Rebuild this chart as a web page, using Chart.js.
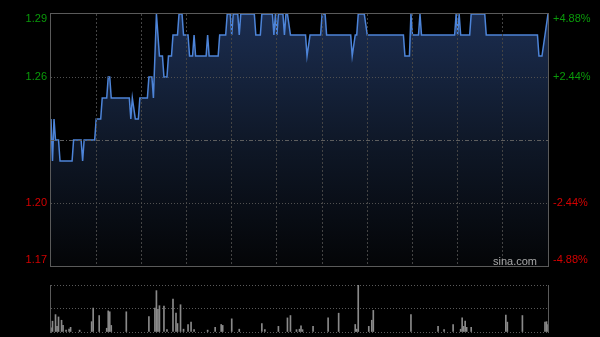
<!DOCTYPE html>
<html>
<head>
<meta charset="utf-8">
<script src="https://cdn.jsdelivr.net/npm/chart.js@4.4.0/dist/chart.umd.min.js"></script>
<style>
  html, body { margin: 0; padding: 0; background: #000; }
  #wrap { position: relative; width: 600px; height: 337px; background: #000; overflow: hidden; }
  #price { position: absolute; left: 0; top: 0; }
  #vol { position: absolute; left: 0; top: 280px; }
</style>
</head>
<body>
<div id="wrap">
  <canvas id="price" width="600" height="280"></canvas>
  <canvas id="vol" width="600" height="57"></canvas>
</div>
<script>
// minutes from the open (0..330), prices read at each turn of the line
var priceMinutes = [
  0, 1, 2, 3, 5, 6, 14, 15, 20, 21, 22, 29, 30, 33, 34, 37, 38, 39, 40,
  52, 53, 54, 56, 58, 59, 64, 65, 67, 68, 70, 72, 74, 75, 77, 78, 80,
  81, 84, 85, 87, 88, 91, 92, 94, 95, 96, 103, 104, 105, 111, 112, 116,
  117, 119, 120, 121, 124, 125, 126, 135, 136, 139, 140, 147, 148, 149,
  150, 151, 154, 155, 156, 157, 159, 169, 170, 172, 179, 180, 182, 183,
  199, 200, 202, 203, 204, 208, 210, 234, 235, 238, 239, 240, 244, 245,
  246, 268, 269, 270, 271, 272, 278, 279, 288, 289, 323, 324, 326, 328, 330
];
var prices = [
  1.24, 1.22, 1.24, 1.23, 1.23, 1.22, 1.22, 1.23, 1.23, 1.22, 1.23, 1.23, 1.24, 1.24, 1.25, 1.25, 1.26, 1.26, 1.25,
  1.25, 1.24, 1.25, 1.24, 1.24, 1.25, 1.25, 1.26, 1.26, 1.25, 1.29, 1.27, 1.27, 1.26, 1.26, 1.27, 1.27,
  1.28, 1.28, 1.29, 1.29, 1.28, 1.28, 1.27, 1.27, 1.28, 1.27, 1.27, 1.28, 1.27, 1.27, 1.28, 1.28,
  1.29, 1.29, 1.28, 1.29, 1.29, 1.28, 1.29, 1.29, 1.28, 1.28, 1.29, 1.29, 1.28, 1.29,
  1.28, 1.29, 1.29, 1.28, 1.29, 1.29, 1.28, 1.28, 1.27, 1.28, 1.28, 1.29, 1.29, 1.28,
  1.28, 1.27, 1.28, 1.28, 1.29, 1.29, 1.28, 1.28, 1.27, 1.27, 1.29, 1.28, 1.28, 1.29,
  1.28, 1.28, 1.29, 1.28, 1.29, 1.28, 1.28, 1.29, 1.29, 1.28, 1.28, 1.27, 1.27, 1.28, 1.29
];
var volMinutes = [
  0, 1, 3, 4, 5, 7, 8, 10, 12, 13, 19, 27, 28, 32, 37, 38, 39, 40, 50, 65,
  69, 70, 71, 72, 75, 77, 81, 83, 84, 86, 88, 91, 93, 95, 104, 109, 113, 114, 120, 125,
  140, 142, 151, 157, 159, 163, 165, 166, 167, 174, 184, 191, 202, 203, 204, 211, 213, 214, 239, 257,
  261, 267, 272, 273, 274, 275, 276, 279, 302, 303, 313, 328, 329, 330
];
var volumes = [
  9, 23, 37, 12, 32, 25, 14, 4, 6, 10, 4, 22, 51, 35, 8, 45, 43, 14, 43, 33,
  51, 88, 48, 56, 55, 5, 70, 40, 18, 58, 6, 16, 21, 5, 4, 10, 16, 14, 28, 6,
  18, 5, 12, 30, 35, 5, 6, 13, 5, 12, 30, 40, 16, 6, 100, 12, 25, 46, 37, 12,
  5, 16, 6, 30, 12, 23, 10, 10, 36, 21, 35, 21, 22, 16
];
var prevClose = 1.23;
var priceTicks = [1.17, 1.20, 1.23, 1.26, 1.29];
var sessionMinutes = 330;

var upColor = '#0a9a0a';
var downColor = '#d40000';
var frameColor = '#5a5a5a';
var gridColor = '#444444';
var font = '11px "Liberation Sans", Arial, sans-serif';

function isEdge(v) {
  return Math.abs(v - priceTicks[0]) < 1e-6 || Math.abs(v - priceTicks[priceTicks.length - 1]) < 1e-6;
}

var priceDecor = {
  id: 'priceDecor',
  beforeDatasetsDraw: function(chart) {
    var c = chart.ctx, a = chart.chartArea;
    c.save();
    c.strokeStyle = frameColor;
    c.lineWidth = 1;
    c.strokeRect(Math.round(a.left) - 0.5, Math.round(a.top) - 0.5,
      Math.round(a.right - a.left) + 1, Math.round(a.bottom - a.top) + 1);
    c.restore();
  },
  afterDraw: function(chart) {
    var c = chart.ctx, a = chart.chartArea, y = chart.scales.y;
    c.save();
    c.font = font;
    c.textBaseline = 'middle';
    priceTicks.forEach(function(v, i) {
      if (Math.abs(v - prevClose) < 1e-6) return;
      var py = y.getPixelForValue(v);
      if (i === 0) py -= 6;
      if (i === priceTicks.length - 1) py += 5;
      c.fillStyle = v > prevClose ? upColor : downColor;
      c.textAlign = 'right';
      c.fillText(v.toFixed(2), a.left - 4, py);
      var pct = (v - prevClose) / prevClose * 100;
      c.textAlign = 'left';
      c.fillText((pct > 0 ? '+' : '') + pct.toFixed(2) + '%', a.right + 5, py);
    });
    c.fillStyle = '#a8a8a8';
    c.textAlign = 'right';
    c.fillText('sina.com', a.right - 11, a.bottom - 4);
    c.restore();
  }
};

new Chart(document.getElementById('price'), {
  type: 'line',
  data: {
    datasets: [{
      data: priceMinutes.map(function(m, i) { return { x: m, y: prices[i] }; }),
      borderColor: '#4d84d8',
      borderWidth: 1.5,
      pointRadius: 0,
      tension: 0,
      fill: 'start',
      backgroundColor: function(ctx) {
        var area = ctx.chart.chartArea;
        if (!area) return 'transparent';
        var g = ctx.chart.ctx.createLinearGradient(0, area.top, 0, area.bottom);
        g.addColorStop(0, '#1b2d50');
        g.addColorStop(0.5, '#0f1828');
        g.addColorStop(1, '#040507');
        return g;
      }
    }]
  },
  options: {
    responsive: false,
    animation: false,
    layout: { padding: { left: 51, right: 52, top: 14, bottom: 14 } },
    plugins: { legend: { display: false }, tooltip: { enabled: false } },
    scales: {
      x: {
        type: 'linear',
        min: 0,
        max: sessionMinutes,
        ticks: { display: false, stepSize: 30 },
        grid: {
          z: 1,
          drawTicks: false,
          color: function(ctx) {
            var v = ctx.tick ? ctx.tick.value : 0;
            return (v === 0 || v === sessionMinutes) ? 'transparent' : gridColor;
          }
        },
        border: { display: false, dash: [2, 2] }
      },
      y: {
        min: priceTicks[0],
        max: priceTicks[priceTicks.length - 1],
        afterBuildTicks: function(scale) {
          scale.ticks = priceTicks.map(function(v) { return { value: v }; });
        },
        ticks: { display: false },
        grid: {
          z: 1,
          drawTicks: false,
          color: function(ctx) {
            var v = ctx.tick ? ctx.tick.value : 0;
            if (isEdge(v)) return 'transparent';
            return Math.abs(v - prevClose) < 1e-6 ? '#5e5e5e' : '#505050';
          }
        },
        border: {
          display: false,
          dash: function(ctx) {
            var v = ctx.tick ? ctx.tick.value : 0;
            return Math.abs(v - prevClose) < 1e-6 ? [4, 2, 1, 2] : [1, 2];
          }
        }
      }
    }
  },
  plugins: [priceDecor]
});

var volDecor = {
  id: 'volDecor',
  beforeDatasetsDraw: function(chart) {
    var c = chart.ctx, a = chart.chartArea;
    c.save();
    c.strokeStyle = frameColor;
    c.lineWidth = 1;
    c.beginPath();
    c.moveTo(Math.round(a.left) - 0.5, a.top);
    c.lineTo(Math.round(a.left) - 0.5, a.bottom + 1);
    c.moveTo(Math.round(a.right) + 0.5, a.top);
    c.lineTo(Math.round(a.right) + 0.5, a.bottom + 1);
    c.stroke();
    c.restore();
  }
};

new Chart(document.getElementById('vol'), {
  type: 'bar',
  data: {
    datasets: [{
      data: volMinutes.map(function(m, i) { return { x: m, y: volumes[i] }; }),
      backgroundColor: '#8a8a8a',
      borderWidth: 0,
      barThickness: 1
    }]
  },
  options: {
    responsive: false,
    animation: false,
    layout: { padding: { left: 51, right: 52, top: 5, bottom: 5 } },
    plugins: { legend: { display: false }, tooltip: { enabled: false } },
    scales: {
      x: {
        type: 'linear',
        min: 0,
        max: sessionMinutes,
        offset: false,
        display: false,
        grid: { offset: false }
      },
      y: {
        min: 0,
        max: 100,
        ticks: { display: false, stepSize: 50 },
        grid: { drawTicks: false, color: '#5a5a5a' },
        border: { display: false, dash: [1, 2] }
      }
    }
  },
  plugins: [volDecor]
});
</script>
</body>
</html>
